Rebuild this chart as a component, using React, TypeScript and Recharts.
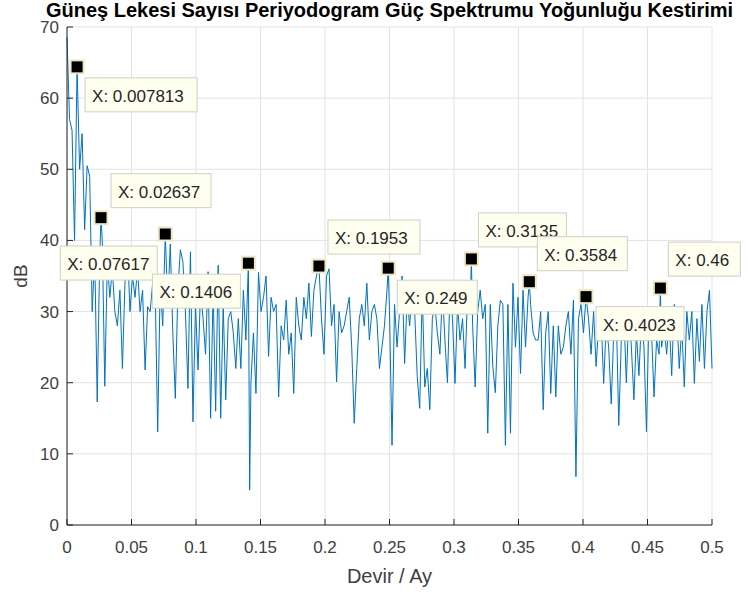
import {
  CartesianGrid,
  ComposedChart,
  Line,
  Scatter,
  XAxis,
  YAxis,
} from "recharts";

// periodogram bins (frequency = bin / 1024 cycles per month) and PSD in dB
const BINS = [
  0, 2, 4, 6, 8, 10, 12, 14, 16, 18, 20, 22, 24, 26, 27, 28, 30, 32, 34, 36, 38, 40, 42, 44, 46, 48,
  50, 52, 54, 56, 58, 60, 62, 64, 66, 68, 70, 72, 74, 76, 78, 80, 82, 84, 86, 88, 90, 92, 94, 96, 98,
  100, 102, 104, 106, 108, 110, 112, 114, 116, 118, 120, 122, 124, 126, 128, 130, 132, 134, 136, 138,
  140, 142, 144, 145, 146, 148, 150, 152, 154, 156, 158, 160, 162, 164, 166, 168, 170, 172, 174, 176,
  178, 180, 182, 184, 186, 188, 190, 192, 194, 196, 198, 200, 202, 204, 206, 208, 210, 212, 214, 216,
  218, 220, 222, 224, 226, 228, 230, 232, 234, 236, 238, 240, 242, 244, 246, 248, 250, 252, 254, 255,
  256, 258, 260, 262, 264, 266, 268, 270, 272, 274, 276, 278, 280, 282, 284, 286, 288, 290, 292, 294,
  296, 298, 300, 302, 304, 306, 308, 310, 312, 314, 316, 318, 320, 321, 322, 324, 326, 328, 330, 332,
  334, 336, 338, 340, 342, 344, 346, 348, 350, 352, 354, 356, 358, 360, 362, 364, 366, 367, 368, 370,
  372, 374, 376, 378, 380, 382, 384, 386, 388, 390, 392, 394, 396, 398, 400, 402, 404, 406, 408, 410,
  412, 414, 416, 418, 420, 422, 424, 426, 428, 430, 432, 434, 436, 438, 440, 442, 444, 446, 448, 450,
  452, 454, 456, 458, 460, 462, 464, 466, 468, 470, 471, 472, 474, 476, 478, 480, 482, 484, 486, 488,
  490, 492, 494, 496, 498, 500, 502, 504, 506, 508, 510, 512,
];
const DB = [
  68.6, 57, 55.5, 40, 64.4, 50, 55, 41.5, 50.5, 49, 30, 38, 17.3, 38, 43.2, 40, 19.5, 37, 32, 36, 30, 28, 33, 22, 34, 39,
  30, 35, 32, 36, 30, 33, 21.8, 30.7, 30, 34, 33, 13.1, 34, 28, 40.9, 31, 39.5, 27, 17.8, 33, 38.7, 37, 30, 19.2, 38.4,
  14.5, 31, 21.8, 33, 29, 24, 35.6, 15, 33, 16, 36.5, 15, 31, 17.6, 29, 30, 27, 22, 29, 22,
  33, 26, 36.8, 4.9, 20, 27, 18.5, 35.5, 30, 32, 35, 23.7, 32, 30, 31, 18, 28, 26, 31.6, 24,
  27, 18.5, 32, 28, 26, 32, 29, 34, 26.5, 33, 35, 36.4, 29, 24, 35, 36, 28, 31, 20.1, 30,
  27, 28, 30, 32, 25, 14.3, 22, 29, 31, 28, 34, 26, 30, 31, 29, 22, 25, 28, 33, 36.1,
  30, 11.2, 31, 25, 30, 35, 22.7, 32, 28, 33, 30, 20.9, 16.4, 33, 19.4, 22, 16.2, 29, 31, 27,
  24, 33, 26, 20, 33, 29, 19.9, 31, 26, 29, 22, 33, 30, 37.4, 28, 19.4, 30, 33, 29, 31,
  12.9, 31, 22.3, 18.6, 28, 31.6, 31, 11.2, 31, 12.9, 34, 25, 32, 21.3, 33, 25, 32, 34.2, 31, 27,
  26, 26, 30, 16.2, 27, 30, 18.5, 28, 18, 28, 24, 25, 28, 30, 24, 31.6, 6.8, 29, 31, 27,
  32.1, 29, 24, 30, 22.3, 28, 29, 19.9, 28, 25, 17, 27, 30, 14, 26, 30, 20, 30, 25, 17.6,
  27, 21, 29, 25, 13.1, 30, 27, 18, 26, 24, 33.3, 25, 28, 24, 29, 21, 31, 30, 22, 28,
  19.4, 30, 26, 30, 19.9, 29, 23, 31, 22, 30, 33, 22,
];

// data tips
const TIP_BINS = [8, 27, 78, 144, 200, 255, 321, 367, 412, 471];
const TIP_DB = [64.4, 43.2, 40.9, 36.8, 36.4, 36.1, 37.4, 34.2, 32.1, 33.3];
const TIP_LABELS = [
  "X: 0.007813", "X: 0.02637", "X: 0.07617", "X: 0.1406", "X: 0.1953",
  "X: 0.249", "X: 0.3135", "X: 0.3584", "X: 0.4023", "X: 0.46",
];
// box offset from the marker (left, top) and box width
const TIP_BOX = [
  [8, 11, 112], [10, -44, 100], [-105, 12, 97], [-96, 11, 88], [9, -46, 92],
  [9, 12, 80], [7, -46, 88], [8, -45, 90], [10, 10, 88], [8, -46, 72],
];

const X_TICKS = [0, 0.05, 0.1, 0.15, 0.2, 0.25, 0.3, 0.35, 0.4, 0.45, 0.5];
const Y_TICKS = [0, 10, 20, 30, 40, 50, 60, 70];

const AX = "#262626";
const TXT = "#404040";
const FONT = "'Liberation Sans', Arial, Helvetica, sans-serif";

const lineData = BINS.map((b, i) => ({ f: b / 1024, db: DB[i] }));
const tipData = TIP_BINS.map((b, i) => ({ f: b / 1024, db: TIP_DB[i], idx: i }));

function BottomTick(props: any) {
  const { x, y, payload } = props;
  return (
    <g>
      <line x1={x} x2={x} y1={y} y2={y - 6} stroke={AX} />
      <text x={x} y={y + 28} textAnchor="middle" fill={TXT} fontSize={17} fontFamily={FONT}>
        {String(payload.value)}
      </text>
    </g>
  );
}

function TopTick(props: any) {
  const { x, y } = props;
  return <line x1={x} x2={x} y1={y} y2={y + 6} stroke={AX} />;
}

function LeftTick(props: any) {
  const { x, y, payload } = props;
  return (
    <g>
      <line x1={x} x2={x + 6} y1={y} y2={y} stroke={AX} />
      <text x={x - 8} y={y + 6} textAnchor="end" fill={TXT} fontSize={17} fontFamily={FONT}>
        {payload.value}
      </text>
    </g>
  );
}

function RightTick(props: any) {
  const { x, y } = props;
  return <line x1={x} x2={x - 6} y1={y} y2={y} stroke={AX} />;
}

function DataTip(props: any) {
  const { cx, cy, payload } = props;
  if (cx == null || cy == null) return null;
  const i = payload.idx;
  const [dx, dy, w] = TIP_BOX[i];
  const bx = cx + dx;
  const by = cy + dy;
  return (
    <g>
      <rect x={cx - 6.5} y={cy - 6.5} width={13} height={13} fill="#000" stroke="#efe7c4" strokeWidth={2} />
      <rect x={bx} y={by} width={w} height={34} fill="#fffff0" stroke="#cfcfc4" strokeWidth={1} />
      <text x={bx + 7} y={by + 24} fill="#262626" fontSize={17} fontFamily={FONT}>
        {TIP_LABELS[i]}
      </text>
    </g>
  );
}

export default function App() {
  return (
    <div style={{ position: "absolute", left: 0, top: 0, width: 748, height: 594, background: "#fff" }}>
      <div
        style={{
          position: "absolute",
          left: 31,
          top: 0,
          width: 717,
          textAlign: "center",
          fontFamily: FONT,
          fontWeight: "bold",
          fontSize: 20,
          lineHeight: "20px",
          color: "#000",
          whiteSpace: "nowrap",
        }}
      >
        Güneş Lekesi Sayısı Periyodogram Güç Spektrumu Yoğunluğu Kestirimi
      </div>
      <ComposedChart width={748} height={594} margin={{ top: 27, right: 36, left: 0, bottom: 0 }}>
        <CartesianGrid stroke="#e3e3e3" strokeWidth={1} />
        <XAxis
          dataKey="f"
          type="number"
          domain={[0, 0.5]}
          ticks={X_TICKS}
          height={69}
          stroke={AX}
          tickLine={false}
          tickSize={0}
          tickMargin={0}
          tick={<BottomTick />}
          label={{ value: "Devir / Ay", position: "center", dy: 16, fill: TXT, fontSize: 20, fontFamily: FONT }}
        />
        <XAxis
          xAxisId="top"
          orientation="top"
          dataKey="f"
          type="number"
          domain={[0, 0.5]}
          ticks={X_TICKS}
          height={0}
          stroke={AX}
          tickLine={false}
          tickSize={0}
          tickMargin={0}
          tick={<TopTick />}
        />
        <YAxis
          type="number"
          domain={[0, 70]}
          ticks={Y_TICKS}
          width={67}
          stroke={AX}
          tickLine={false}
          tickSize={0}
          tickMargin={0}
          tick={<LeftTick />}
          label={{ value: "dB", angle: -90, position: "center", dx: -13, fill: TXT, fontSize: 19, fontFamily: FONT }}
        />
        <YAxis
          yAxisId="right"
          orientation="right"
          type="number"
          domain={[0, 70]}
          ticks={Y_TICKS}
          width={0}
          stroke={AX}
          tickLine={false}
          tickSize={0}
          tickMargin={0}
          tick={<RightTick />}
        />
        <Line
          data={lineData}
          dataKey="db"
          type="linear"
          stroke="#0072BD"
          strokeWidth={1}
          dot={false}
          isAnimationActive={false}
        />
        <Scatter data={tipData} dataKey="db" shape={<DataTip />} isAnimationActive={false} />
      </ComposedChart>
    </div>
  );
}
